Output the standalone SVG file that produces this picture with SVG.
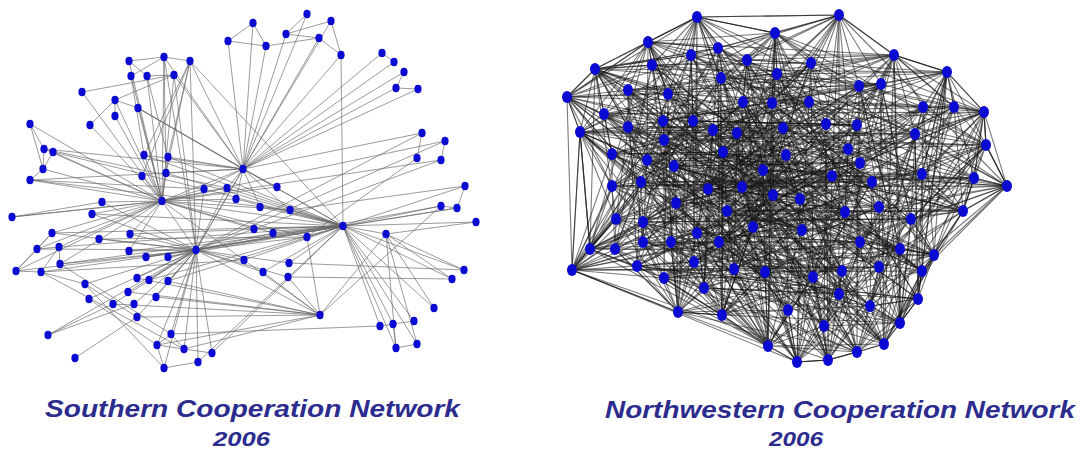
<svg xmlns="http://www.w3.org/2000/svg" width="1086" height="451" viewBox="0 0 1086 451">
<style>
.ls{fill:none;stroke:#666;stroke-opacity:.65;stroke-width:1}
.rs{fill:none;stroke:#111;stroke-opacity:.56;stroke-width:1.1}
.a{fill:#0a0ad2;rx:3.6px;ry:4.2px}
.b{fill:#0a0ad2;rx:5px;ry:6px}
.t{font-family:"Liberation Sans",Arial,sans-serif;font-weight:bold;font-style:italic;fill:#2c2c8e}
</style>
<rect width="1086" height="451" fill="#fff"/>
<g id="connectors">
<g id="south-edges">
<path class="ls" d="M228 41L243 169L253 23M266 46L243 169L286 34M307 14L243 169L331 21M319 38L243 169L341 55M382 53L243 169L394 62M404 72L243 169L396 88M418 89L243 169L422 133M190 61L243 169L174 75M204 189L243 169L227 188M236 199L243 169L277 187M260 207L243 169L290 210M144 155L243 169L168 157M166 173L243 169L138 108M164 57L243 169L343 226M162 201L243 169L196 250M30 180L243 169L44 149"/>
<path class="ls" d="M129 61L162 201L164 57M131 76L162 201L147 76M174 75L162 201L115 100M138 108L162 201L115 116M90 125L162 201L82 92M30 124L162 201L44 149M53 152L162 201L43 169M30 180L162 201L144 155M168 157L162 201L142 176M166 173L162 201L102 202M92 214L162 201L12 217M52 233L162 201L130 234M37 249L162 201L59 247M129 251L162 201L227 188M236 199L162 201L343 226M290 210L162 201L254 229M273 233L162 201L307 237M244 260L162 201L196 250M277 187L162 201L445 141M441 160L162 201L16 271M60 264L162 201L204 189"/>
<path class="ls" d="M130 234L196 250L99 239M129 251L196 250L146 257M168 257L196 250L137 278M149 280L196 250L168 281M128 292L196 250L156 297M113 304L196 250L134 304M137 317L196 250L171 334M157 345L196 250L184 349M212 353L196 250L164 368M198 362L196 250L41 272M60 264L196 250L85 284M89 299L196 250L48 335M52 233L196 250L37 249M102 202L196 250L92 214M244 260L196 250L254 229M273 233L196 250L307 237M343 226L196 250L263 272M289 263L196 250L288 277M320 315L196 250L227 188M190 61L196 250L174 75M164 57L196 250L441 206M457 208L196 250L422 133M16 271L196 250L204 189M445 141L196 250L243 169"/>
<path class="ls" d="M465 186L343 226L441 206M457 208L343 226L476 222M386 234L343 226L464 270M452 279L343 226L434 308M380 326L343 226L393 324M414 321L343 226L396 348M417 344L343 226L204 189M227 188L343 226L236 199M260 207L343 226L290 210M254 229L343 226L273 233M307 237L343 226L244 260M263 272L343 226L289 263M168 157L343 226L166 173M144 155L343 226L146 257M168 257L343 226L130 234M129 251L343 226L168 281M149 280L343 226L138 108M190 61L343 226L341 55M212 353L343 226L198 362M92 214L343 226L59 247M60 264L343 226L52 233"/>
<path class="ls" d="M307 237L320 315L441 206M244 260L320 315L263 272M288 277L320 315L137 317M156 297L320 315L168 281M137 278L320 315L157 345M128 292L320 315L113 304M184 349L320 315L386 234"/>
<path class="ls" d="M386 234L464 270M386 234L396 348M386 234L452 279M386 234L417 344M289 263L464 270M288 277L452 279M171 334L380 326M422 133L417 158M441 160L254 229M417 158L307 237M465 186L290 210M476 222L386 234M441 206L457 208L465 186M434 308L386 234M380 326L393 324L414 321M396 348L417 344M393 324L396 348M445 141L441 160"/>
<path class="ls" d="M129 61L164 57L190 61M129 61L147 76M131 76L164 57M147 76L174 75M82 92L174 75M115 100L174 75M115 100L115 116M115 100L138 108M90 125L115 100M164 57L166 173M190 61L142 176M190 61L166 173M190 61L168 157M190 61L144 155M131 76L144 155M147 76L168 157M138 108L243 169"/>
<path class="ls" d="M228 41L253 23L266 46L228 41M266 46L319 38M286 34L307 14M286 34L331 21M286 34L319 38M331 21L341 55M319 38L341 55M382 53L394 62M404 72L396 88L418 89"/>
<path class="ls" d="M30 124L43 169M30 124L44 149L43 169M53 152L43 169L30 180M30 180L204 189M53 152L204 189M44 149L227 188M12 217L102 202M16 271L37 249M16 271L41 272M16 271L52 233M37 249L52 233M37 249L59 247M41 272L59 247M60 264L59 247M41 272L85 284M48 335L134 304M75 358L137 317M48 335L113 304"/>
<path class="ls" d="M164 368L198 362M157 345L184 349M157 345L164 368M184 349L212 353M171 334L184 349M171 334L157 345M164 368L85 284M157 345L89 299M171 334L60 264M184 349L41 272M137 317L85 284M99 239L307 237M41 272L244 260M30 180L290 210M12 217L162 201"/>
</g>
<g id="north-edges">
<path class="rs" d="M839 15L697 17L775 33L648 42L718 48L691 55L894 55L747 60L811 63L652 65L595 69L947 72L777 74L721 78L881 84L859 86L628 90L668 94L567 97L743 102L809 102L772 103L923 107L954 107L984 112L604 114L663 121L693 121L826 124L857 125L628 127L783 128L713 130L580 132L737 133L915 134L664 140L986 145L848 149L723 152L612 154L786 155L647 160L860 163L674 166L763 170L922 174L832 176L974 178L641 182L872 182L612 186L1007 186L742 187L708 189L773 195L800 199L676 203L879 207L727 211L963 211L845 212L616 219L911 219L643 222L753 227L802 230L697 233L860 242L643 242L671 242L719 242L590 249L615 249L900 249L934 255L694 262L637 266L879 267L734 269L572 270L842 271L922 271L765 272L813 277L664 278L704 288L839 294L918 299L870 306L788 310L678 312L722 315L900 323L824 326L884 344L768 346L857 352L828 360L797 362"/>
<path class="rs" d="M567 97L572 270L580 132L590 249L595 69L604 114L612 154L612 186L615 249L616 219L628 127L628 90L637 266L641 182L643 222L643 242L647 160L648 42L652 65L663 121L664 140L664 278L668 94L671 242L674 166L676 203L678 312L691 55L693 121L694 262L697 17L697 233L704 288L708 189L713 130L718 48L719 242L721 78L722 315L723 152L727 211L734 269L737 133L742 187L743 102L747 60L753 227L763 170L765 272L768 346L772 103L773 195L775 33L777 74L783 128L786 155L788 310L797 362L800 199L802 230L809 102L811 63L813 277L824 326L826 124L828 360L832 176L839 15L839 294L842 271L845 212L848 149L857 125L857 352L859 86L860 163L860 242L870 306L872 182L879 207L879 267L881 84L884 344L894 55L900 249L900 323L911 219L915 134L918 299L922 174L922 271L923 107L934 255L947 72L954 107L963 211L974 178L984 112L986 145L1007 186"/>
<path class="rs" d="M839 15L567 97L697 17L572 270L775 33L580 132L648 42L590 249L718 48L595 69L691 55L604 114L894 55L612 154L747 60L612 186L811 63L615 249L652 65L616 219L595 69L628 127L947 72L628 90L777 74L637 266L721 78L641 182L881 84L643 222L859 86L643 242L628 90L647 160L668 94L648 42L567 97L652 65L743 102L663 121L809 102L664 140L772 103L664 278L923 107L668 94L954 107L671 242L984 112L674 166L604 114L676 203L663 121L678 312L693 121L691 55L826 124L693 121L857 125L694 262L628 127L697 17L783 128L697 233L713 130L704 288L580 132L708 189L737 133L713 130L915 134L718 48L664 140L719 242L986 145L721 78L848 149L722 315L723 152"/>
<path class="rs" d="M723 152L612 154L727 211L786 155L734 269L647 160L737 133L860 163L742 187L674 166L743 102L763 170L747 60L922 174L753 227L832 176L763 170L974 178L765 272L641 182L768 346L872 182L772 103L612 186L773 195L1007 186L775 33L742 187L777 74L708 189L783 128L773 195L786 155L800 199L788 310L676 203L797 362L879 207L800 199L727 211L802 230L963 211L809 102L845 212L811 63L616 219L813 277L911 219L824 326L643 222L826 124L753 227L828 360L802 230L832 176L697 233L839 15L860 242L839 294L643 242L842 271L671 242L845 212L719 242L848 149L590 249L857 125L615 249L857 352L900 249L859 86L934 255L860 163L694 262L860 242L637 266L870 306L879 267L872 182L734 269L879 207L572 270L879 267L842 271L881 84L922 271L884 344L765 272L894 55L813 277L900 249L664 278L900 323L704 288L911 219L839 294L915 134L918 299L918 299L870 306L922 174L788 310L922 271L678 312L923 107L722 315L934 255L900 323L947 72L824 326L954 107L884 344L963 211L768 346L974 178L857 352L984 112L828 360L986 145L797 362L1007 186"/>
<path class="rs" d="M839 15L1007 186L697 17L986 145L775 33L984 112L648 42L974 178L718 48L963 211L691 55L954 107L894 55L947 72L747 60L934 255L811 63L923 107L652 65L922 271L595 69L922 174L947 72L918 299L777 74L915 134L721 78L911 219L881 84L900 323L859 86L900 249L628 90L894 55L668 94L884 344L567 97L881 84L743 102L879 267L809 102L879 207L772 103L872 182L923 107L870 306L954 107L860 242L984 112L860 163L604 114L859 86L663 121L857 352L693 121L857 125L826 124L848 149L857 125L845 212L628 127L842 271L783 128L839 294L713 130L839 15L580 132L832 176L737 133L828 360L915 134L826 124L664 140L824 326L986 145L813 277L848 149L811 63L723 152L809 102L612 154L802 230L786 155L800 199L647 160L797 362L860 163L788 310L674 166L786 155L763 170L783 128L922 174L777 74L832 176L775 33L974 178L773 195L641 182L772 103"/>
<path class="rs" d="M872 182L768 346L612 186L765 272L1007 186L763 170L742 187L753 227L708 189L747 60L773 195L743 102L800 199L742 187L676 203L737 133L879 207L734 269L727 211L727 211L963 211L723 152L845 212L722 315L616 219L721 78L911 219L719 242L643 222L718 48L753 227L713 130L802 230L708 189L697 233L704 288L860 242L697 233L643 242L697 17L671 242L694 262L719 242L693 121L590 249L691 55L615 249L678 312L900 249L676 203L934 255L674 166L694 262L671 242L637 266L668 94L879 267L664 278L734 269L664 140L572 270L663 121L842 271L652 65L922 271L648 42L765 272L647 160L813 277L643 242L664 278L643 222L704 288L641 182L839 294L637 266L918 299L628 90L870 306L628 127L788 310L616 219L678 312L615 249L722 315L612 186L900 323L612 154L824 326L604 114L884 344L595 69L768 346L590 249L857 352L580 132L828 360L572 270L797 362L567 97"/>
<path class="rs" d="M839 15L797 362L697 17L828 360L775 33L857 352L648 42L768 346L718 48L884 344L691 55L824 326L894 55L900 323L747 60L722 315L811 63L678 312L652 65L788 310L595 69L870 306L947 72L918 299L777 74L839 294L721 78L704 288L881 84L664 278L859 86L813 277L628 90L765 272L668 94L922 271L567 97L842 271L743 102L572 270L809 102L734 269L772 103L879 267L923 107L637 266L954 107L694 262L984 112L934 255L604 114L900 249L663 121L615 249L693 121L590 249L826 124L719 242L857 125L671 242L628 127L643 242L783 128L860 242L713 130L697 233L580 132L802 230L737 133L753 227L915 134L643 222L664 140L911 219L986 145L616 219L848 149L845 212L723 152L963 211L612 154L727 211L786 155L879 207L647 160L676 203L860 163L800 199L674 166L773 195L763 170L708 189L922 174L742 187L832 176L1007 186L974 178L612 186L641 182L872 182"/>
<path class="rs" d="M567 97L1007 186L572 270L986 145L580 132L984 112L590 249L974 178L595 69L963 211L604 114L954 107L612 154L947 72L612 186L934 255L615 249L923 107L616 219L922 271L628 127L922 174L628 90L918 299L637 266L915 134L641 182L911 219L643 222L900 323L643 242L900 249L647 160L894 55L648 42L884 344L652 65L881 84L663 121L879 267L664 140L879 207L664 278L872 182L668 94L870 306L671 242L860 242L674 166L860 163L676 203L859 86L678 312L857 352L691 55L857 125L693 121L848 149L694 262L845 212L697 17L842 271L697 233L839 294L704 288L839 15L708 189L832 176L713 130L828 360L718 48L826 124L719 242L824 326L721 78L813 277L722 315L811 63L723 152L809 102L727 211L802 230L734 269L800 199L737 133L797 362L742 187L788 310L743 102L786 155L747 60L783 128L753 227L777 74L763 170L775 33L765 272L773 195L768 346L772 103"/>
<path class="rs" d="M839 15L894 55L947 72L984 112L986 145L1007 186L963 211L934 255L922 271L918 299L900 323L884 344L857 352L828 360L797 362L768 346L722 315L678 312L572 270L590 249L580 132L567 97L595 69L648 42L697 17L775 33L839 15"/>
<path class="rs" d="M704 288L768 346L722 315M664 278L768 346L694 262M734 269L768 346L765 272M697 233L768 346L719 242M671 242L768 346L753 227M727 211L768 346L788 310M813 277L768 346L802 230M643 242L768 346L637 266M678 312L768 346L824 326"/>
<path class="rs" d="M648 42L595 69L652 65M691 55L595 69L628 90M668 94L595 69L718 48M721 78L595 69L747 60M604 114L595 69L663 121M693 121L595 69L580 132M628 127L595 69L567 97M612 154L595 69L697 17"/>
<path class="rs" d="M604 114L567 97L580 132M628 90L567 97L628 127M612 154L567 97L647 160M663 121L567 97L612 186M641 182L567 97L648 42"/>
<path class="rs" d="M590 249L572 270L615 249M637 266L572 270L664 278M643 242L572 270L616 219M612 186L572 270L641 182M643 222L572 270L671 242M678 312L572 270L694 262M580 132L572 270L612 154"/>
<path class="rs" d="M604 114L580 132L612 154M628 127L580 132L647 160M612 186L580 132L641 182M616 219L580 132L590 249M664 140L580 132L663 121"/>
<path class="rs" d="M616 219L590 249L615 249M643 222L590 249L643 242M612 186L590 249L637 266M664 278L590 249L641 182"/>
<path class="rs" d="M974 178L1007 186L986 145M963 211L1007 186L922 174M911 219L1007 186L934 255M984 112L1007 186L922 271M879 207L1007 186L915 134"/>
<path class="rs" d="M954 107L984 112L947 72M923 107L984 112L915 134M986 145L984 112L922 174M974 178L984 112L894 55M881 84L984 112L963 211"/>
<path class="rs" d="M775 33L839 15L811 63M894 55L839 15L859 86M881 84L839 15L777 74M747 60L839 15L809 102M697 17L839 15L718 48"/>
<path class="rs" d="M947 72L894 55L923 107M881 84L894 55L859 86M811 63L894 55L954 107M915 134L894 55L826 124M857 125L894 55L848 149"/>
<path class="rs" d="M954 107L947 72L923 107M881 84L947 72L915 134M986 145L947 72L922 174M857 125L947 72L974 178"/>
<path class="rs" d="M954 107L986 145L923 107M915 134L986 145L922 174M974 178L986 145L963 211M911 219L986 145L934 255"/>
<path class="rs" d="M884 344L857 352L828 360M870 306L857 352L839 294M900 323L857 352L824 326M842 271L857 352L879 267M918 299L857 352L813 277"/>
<path class="rs" d="M797 362L828 360L824 326M839 294L828 360L870 306M813 277L828 360L788 310M842 271L828 360L860 242"/>
<path class="rs" d="M768 346L797 362L788 310M824 326L797 362L813 277M765 272L797 362L734 269M839 294L797 362L802 230"/>
<path class="rs" d="M900 323L884 344L918 299M870 306L884 344L922 271M879 267L884 344L934 255M839 294L884 344L900 249"/>
<path class="rs" d="M918 299L900 323L922 271M934 255L900 323L879 267M900 249L900 323L870 306M842 271L900 323L911 219"/>
<path class="rs" d="M678 312L722 315L704 288M694 262L722 315L664 278M734 269L722 315L719 242M697 233L722 315L765 272M788 310L722 315L753 227"/>
<path class="rs" d="M664 278L678 312L637 266M694 262L678 312L704 288M643 242L678 312L671 242M615 249L678 312L697 233"/>
<path class="rs" d="M648 42L697 17L691 55M718 48L697 17L775 33M747 60L697 17L652 65M721 78L697 17L668 94"/>
<path class="rs" d="M747 60L775 33L718 48M777 74L775 33L811 63M721 78L775 33L743 102M772 103L775 33L809 102"/>
<path class="rs" d="M691 55L648 42L652 65M628 90L648 42L668 94M604 114L648 42L718 48M663 121L648 42L693 121"/>
<path class="rs" d="M934 255L963 211L911 219M922 174L963 211L974 178M900 249L963 211L879 207M922 271L963 211L915 134"/>
<path class="rs" d="M922 271L934 255L900 249M911 219L934 255L879 267M918 299L934 255L860 242M870 306L934 255L845 212"/>
</g>
</g>
<g id="south-nodes">
<g id="s1"><ellipse class="a" cx="228" cy="41"/></g>
<g id="s2"><ellipse class="a" cx="129" cy="61"/></g>
<g id="s3"><ellipse class="a" cx="164" cy="57"/></g>
<g id="s4"><ellipse class="a" cx="190" cy="61"/></g>
<g id="s5"><ellipse class="a" cx="131" cy="76"/></g>
<g id="s6"><ellipse class="a" cx="147" cy="76"/></g>
<g id="s7"><ellipse class="a" cx="174" cy="75"/></g>
<g id="s8"><ellipse class="a" cx="82" cy="92"/></g>
<g id="s9"><ellipse class="a" cx="115" cy="100"/></g>
<g id="s10"><ellipse class="a" cx="138" cy="108"/></g>
<g id="s11"><ellipse class="a" cx="115" cy="116"/></g>
<g id="s12"><ellipse class="a" cx="90" cy="125"/></g>
<g id="s13"><ellipse class="a" cx="30" cy="124"/></g>
<g id="s14"><ellipse class="a" cx="44" cy="149"/></g>
<g id="s15"><ellipse class="a" cx="53" cy="152"/></g>
<g id="s16"><ellipse class="a" cx="43" cy="169"/></g>
<g id="s17"><ellipse class="a" cx="30" cy="180"/></g>
<g id="s18"><ellipse class="a" cx="144" cy="155"/></g>
<g id="s19"><ellipse class="a" cx="168" cy="157"/></g>
<g id="s20"><ellipse class="a" cx="142" cy="176"/></g>
<g id="s21"><ellipse class="a" cx="166" cy="173"/></g>
<g id="s22"><ellipse class="a" cx="243" cy="169"/></g>
<g id="s23"><ellipse class="a" cx="204" cy="189"/></g>
<g id="s24"><ellipse class="a" cx="227" cy="188"/></g>
<g id="s25"><ellipse class="a" cx="162" cy="201"/></g>
<g id="s26"><ellipse class="a" cx="236" cy="199"/></g>
<g id="s27"><ellipse class="a" cx="102" cy="202"/></g>
<g id="s28"><ellipse class="a" cx="92" cy="214"/></g>
<g id="s29"><ellipse class="a" cx="12" cy="217"/></g>
<g id="s30"><ellipse class="a" cx="52" cy="233"/></g>
<g id="s31"><ellipse class="a" cx="130" cy="234"/></g>
<g id="s32"><ellipse class="a" cx="99" cy="239"/></g>
<g id="s33"><ellipse class="a" cx="37" cy="249"/></g>
<g id="s34"><ellipse class="a" cx="59" cy="247"/></g>
<g id="s35"><ellipse class="a" cx="129" cy="251"/></g>
<g id="s36"><ellipse class="a" cx="146" cy="257"/></g>
<g id="s37"><ellipse class="a" cx="168" cy="257"/></g>
<g id="s38"><ellipse class="a" cx="196" cy="250"/></g>
<g id="s39"><ellipse class="a" cx="244" cy="260"/></g>
<g id="s40"><ellipse class="a" cx="16" cy="271"/></g>
<g id="s41"><ellipse class="a" cx="41" cy="272"/></g>
<g id="s42"><ellipse class="a" cx="60" cy="264"/></g>
<g id="s43"><ellipse class="a" cx="137" cy="278"/></g>
<g id="s44"><ellipse class="a" cx="149" cy="280"/></g>
<g id="s45"><ellipse class="a" cx="168" cy="281"/></g>
<g id="s46"><ellipse class="a" cx="85" cy="284"/></g>
<g id="s47"><ellipse class="a" cx="128" cy="292"/></g>
<g id="s48"><ellipse class="a" cx="156" cy="297"/></g>
<g id="s49"><ellipse class="a" cx="89" cy="299"/></g>
<g id="s50"><ellipse class="a" cx="113" cy="304"/></g>
<g id="s51"><ellipse class="a" cx="134" cy="304"/></g>
<g id="s52"><ellipse class="a" cx="137" cy="317"/></g>
<g id="s53"><ellipse class="a" cx="48" cy="335"/></g>
<g id="s54"><ellipse class="a" cx="171" cy="334"/></g>
<g id="s55"><ellipse class="a" cx="157" cy="345"/></g>
<g id="s56"><ellipse class="a" cx="184" cy="349"/></g>
<g id="s57"><ellipse class="a" cx="212" cy="353"/></g>
<g id="s58"><ellipse class="a" cx="75" cy="358"/></g>
<g id="s59"><ellipse class="a" cx="164" cy="368"/></g>
<g id="s60"><ellipse class="a" cx="198" cy="362"/></g>
<g id="s61"><ellipse class="a" cx="253" cy="23"/></g>
<g id="s62"><ellipse class="a" cx="266" cy="46"/></g>
<g id="s63"><ellipse class="a" cx="286" cy="34"/></g>
<g id="s64"><ellipse class="a" cx="307" cy="14"/></g>
<g id="s65"><ellipse class="a" cx="331" cy="21"/></g>
<g id="s66"><ellipse class="a" cx="319" cy="38"/></g>
<g id="s67"><ellipse class="a" cx="341" cy="55"/></g>
<g id="s68"><ellipse class="a" cx="382" cy="53"/></g>
<g id="s69"><ellipse class="a" cx="394" cy="62"/></g>
<g id="s70"><ellipse class="a" cx="404" cy="72"/></g>
<g id="s71"><ellipse class="a" cx="396" cy="88"/></g>
<g id="s72"><ellipse class="a" cx="418" cy="89"/></g>
<g id="s73"><ellipse class="a" cx="422" cy="133"/></g>
<g id="s74"><ellipse class="a" cx="445" cy="141"/></g>
<g id="s75"><ellipse class="a" cx="417" cy="158"/></g>
<g id="s76"><ellipse class="a" cx="441" cy="160"/></g>
<g id="s77"><ellipse class="a" cx="277" cy="187"/></g>
<g id="s78"><ellipse class="a" cx="465" cy="186"/></g>
<g id="s79"><ellipse class="a" cx="260" cy="207"/></g>
<g id="s80"><ellipse class="a" cx="290" cy="210"/></g>
<g id="s81"><ellipse class="a" cx="254" cy="229"/></g>
<g id="s82"><ellipse class="a" cx="273" cy="233"/></g>
<g id="s83"><ellipse class="a" cx="307" cy="237"/></g>
<g id="s84"><ellipse class="a" cx="343" cy="226"/></g>
<g id="s85"><ellipse class="a" cx="386" cy="234"/></g>
<g id="s86"><ellipse class="a" cx="441" cy="206"/></g>
<g id="s87"><ellipse class="a" cx="457" cy="208"/></g>
<g id="s88"><ellipse class="a" cx="476" cy="222"/></g>
<g id="s89"><ellipse class="a" cx="263" cy="272"/></g>
<g id="s90"><ellipse class="a" cx="289" cy="263"/></g>
<g id="s91"><ellipse class="a" cx="288" cy="277"/></g>
<g id="s92"><ellipse class="a" cx="464" cy="270"/></g>
<g id="s93"><ellipse class="a" cx="452" cy="279"/></g>
<g id="s94"><ellipse class="a" cx="434" cy="308"/></g>
<g id="s95"><ellipse class="a" cx="320" cy="315"/></g>
<g id="s96"><ellipse class="a" cx="380" cy="326"/></g>
<g id="s97"><ellipse class="a" cx="393" cy="324"/></g>
<g id="s98"><ellipse class="a" cx="414" cy="321"/></g>
<g id="s99"><ellipse class="a" cx="396" cy="348"/></g>
<g id="s100"><ellipse class="a" cx="417" cy="344"/></g>
</g>
<g id="north-nodes">
<g id="n1"><ellipse class="b" cx="839" cy="15"/></g>
<g id="n2"><ellipse class="b" cx="697" cy="17"/></g>
<g id="n3"><ellipse class="b" cx="775" cy="33"/></g>
<g id="n4"><ellipse class="b" cx="648" cy="42"/></g>
<g id="n5"><ellipse class="b" cx="718" cy="48"/></g>
<g id="n6"><ellipse class="b" cx="691" cy="55"/></g>
<g id="n7"><ellipse class="b" cx="894" cy="55"/></g>
<g id="n8"><ellipse class="b" cx="747" cy="60"/></g>
<g id="n9"><ellipse class="b" cx="811" cy="63"/></g>
<g id="n10"><ellipse class="b" cx="652" cy="65"/></g>
<g id="n11"><ellipse class="b" cx="595" cy="69"/></g>
<g id="n12"><ellipse class="b" cx="947" cy="72"/></g>
<g id="n13"><ellipse class="b" cx="777" cy="74"/></g>
<g id="n14"><ellipse class="b" cx="721" cy="78"/></g>
<g id="n15"><ellipse class="b" cx="881" cy="84"/></g>
<g id="n16"><ellipse class="b" cx="859" cy="86"/></g>
<g id="n17"><ellipse class="b" cx="628" cy="90"/></g>
<g id="n18"><ellipse class="b" cx="668" cy="94"/></g>
<g id="n19"><ellipse class="b" cx="567" cy="97"/></g>
<g id="n20"><ellipse class="b" cx="743" cy="102"/></g>
<g id="n21"><ellipse class="b" cx="809" cy="102"/></g>
<g id="n22"><ellipse class="b" cx="772" cy="103"/></g>
<g id="n23"><ellipse class="b" cx="923" cy="107"/></g>
<g id="n24"><ellipse class="b" cx="954" cy="107"/></g>
<g id="n25"><ellipse class="b" cx="984" cy="112"/></g>
<g id="n26"><ellipse class="b" cx="604" cy="114"/></g>
<g id="n27"><ellipse class="b" cx="663" cy="121"/></g>
<g id="n28"><ellipse class="b" cx="693" cy="121"/></g>
<g id="n29"><ellipse class="b" cx="826" cy="124"/></g>
<g id="n30"><ellipse class="b" cx="857" cy="125"/></g>
<g id="n31"><ellipse class="b" cx="628" cy="127"/></g>
<g id="n32"><ellipse class="b" cx="783" cy="128"/></g>
<g id="n33"><ellipse class="b" cx="713" cy="130"/></g>
<g id="n34"><ellipse class="b" cx="580" cy="132"/></g>
<g id="n35"><ellipse class="b" cx="737" cy="133"/></g>
<g id="n36"><ellipse class="b" cx="915" cy="134"/></g>
<g id="n37"><ellipse class="b" cx="664" cy="140"/></g>
<g id="n38"><ellipse class="b" cx="986" cy="145"/></g>
<g id="n39"><ellipse class="b" cx="848" cy="149"/></g>
<g id="n40"><ellipse class="b" cx="723" cy="152"/></g>
<g id="n41"><ellipse class="b" cx="612" cy="154"/></g>
<g id="n42"><ellipse class="b" cx="786" cy="155"/></g>
<g id="n43"><ellipse class="b" cx="647" cy="160"/></g>
<g id="n44"><ellipse class="b" cx="860" cy="163"/></g>
<g id="n45"><ellipse class="b" cx="674" cy="166"/></g>
<g id="n46"><ellipse class="b" cx="763" cy="170"/></g>
<g id="n47"><ellipse class="b" cx="922" cy="174"/></g>
<g id="n48"><ellipse class="b" cx="832" cy="176"/></g>
<g id="n49"><ellipse class="b" cx="974" cy="178"/></g>
<g id="n50"><ellipse class="b" cx="641" cy="182"/></g>
<g id="n51"><ellipse class="b" cx="872" cy="182"/></g>
<g id="n52"><ellipse class="b" cx="612" cy="186"/></g>
<g id="n53"><ellipse class="b" cx="1007" cy="186"/></g>
<g id="n54"><ellipse class="b" cx="742" cy="187"/></g>
<g id="n55"><ellipse class="b" cx="708" cy="189"/></g>
<g id="n56"><ellipse class="b" cx="773" cy="195"/></g>
<g id="n57"><ellipse class="b" cx="800" cy="199"/></g>
<g id="n58"><ellipse class="b" cx="676" cy="203"/></g>
<g id="n59"><ellipse class="b" cx="879" cy="207"/></g>
<g id="n60"><ellipse class="b" cx="727" cy="211"/></g>
<g id="n61"><ellipse class="b" cx="963" cy="211"/></g>
<g id="n62"><ellipse class="b" cx="845" cy="212"/></g>
<g id="n63"><ellipse class="b" cx="616" cy="219"/></g>
<g id="n64"><ellipse class="b" cx="911" cy="219"/></g>
<g id="n65"><ellipse class="b" cx="643" cy="222"/></g>
<g id="n66"><ellipse class="b" cx="753" cy="227"/></g>
<g id="n67"><ellipse class="b" cx="802" cy="230"/></g>
<g id="n68"><ellipse class="b" cx="697" cy="233"/></g>
<g id="n69"><ellipse class="b" cx="860" cy="242"/></g>
<g id="n70"><ellipse class="b" cx="643" cy="242"/></g>
<g id="n71"><ellipse class="b" cx="671" cy="242"/></g>
<g id="n72"><ellipse class="b" cx="719" cy="242"/></g>
<g id="n73"><ellipse class="b" cx="590" cy="249"/></g>
<g id="n74"><ellipse class="b" cx="615" cy="249"/></g>
<g id="n75"><ellipse class="b" cx="900" cy="249"/></g>
<g id="n76"><ellipse class="b" cx="934" cy="255"/></g>
<g id="n77"><ellipse class="b" cx="694" cy="262"/></g>
<g id="n78"><ellipse class="b" cx="637" cy="266"/></g>
<g id="n79"><ellipse class="b" cx="879" cy="267"/></g>
<g id="n80"><ellipse class="b" cx="734" cy="269"/></g>
<g id="n81"><ellipse class="b" cx="572" cy="270"/></g>
<g id="n82"><ellipse class="b" cx="842" cy="271"/></g>
<g id="n83"><ellipse class="b" cx="922" cy="271"/></g>
<g id="n84"><ellipse class="b" cx="765" cy="272"/></g>
<g id="n85"><ellipse class="b" cx="813" cy="277"/></g>
<g id="n86"><ellipse class="b" cx="664" cy="278"/></g>
<g id="n87"><ellipse class="b" cx="704" cy="288"/></g>
<g id="n88"><ellipse class="b" cx="839" cy="294"/></g>
<g id="n89"><ellipse class="b" cx="918" cy="299"/></g>
<g id="n90"><ellipse class="b" cx="870" cy="306"/></g>
<g id="n91"><ellipse class="b" cx="788" cy="310"/></g>
<g id="n92"><ellipse class="b" cx="678" cy="312"/></g>
<g id="n93"><ellipse class="b" cx="722" cy="315"/></g>
<g id="n94"><ellipse class="b" cx="900" cy="323"/></g>
<g id="n95"><ellipse class="b" cx="824" cy="326"/></g>
<g id="n96"><ellipse class="b" cx="884" cy="344"/></g>
<g id="n97"><ellipse class="b" cx="768" cy="346"/></g>
<g id="n98"><ellipse class="b" cx="857" cy="352"/></g>
<g id="n99"><ellipse class="b" cx="828" cy="360"/></g>
<g id="n100"><ellipse class="b" cx="797" cy="362"/></g>
</g>
<g id="labels">
<text class="t" x="45" y="417" font-size="24" textLength="415" lengthAdjust="spacingAndGlyphs">Southern Cooperation Network</text>
<text class="t" x="213" y="446" font-size="21" textLength="57" lengthAdjust="spacingAndGlyphs">2006</text>
<text class="t" x="605" y="418" font-size="24" textLength="470" lengthAdjust="spacingAndGlyphs">Northwestern Cooperation Network</text>
<text class="t" x="769" y="446" font-size="21" textLength="54" lengthAdjust="spacingAndGlyphs">2006</text>
</g>
</svg>
